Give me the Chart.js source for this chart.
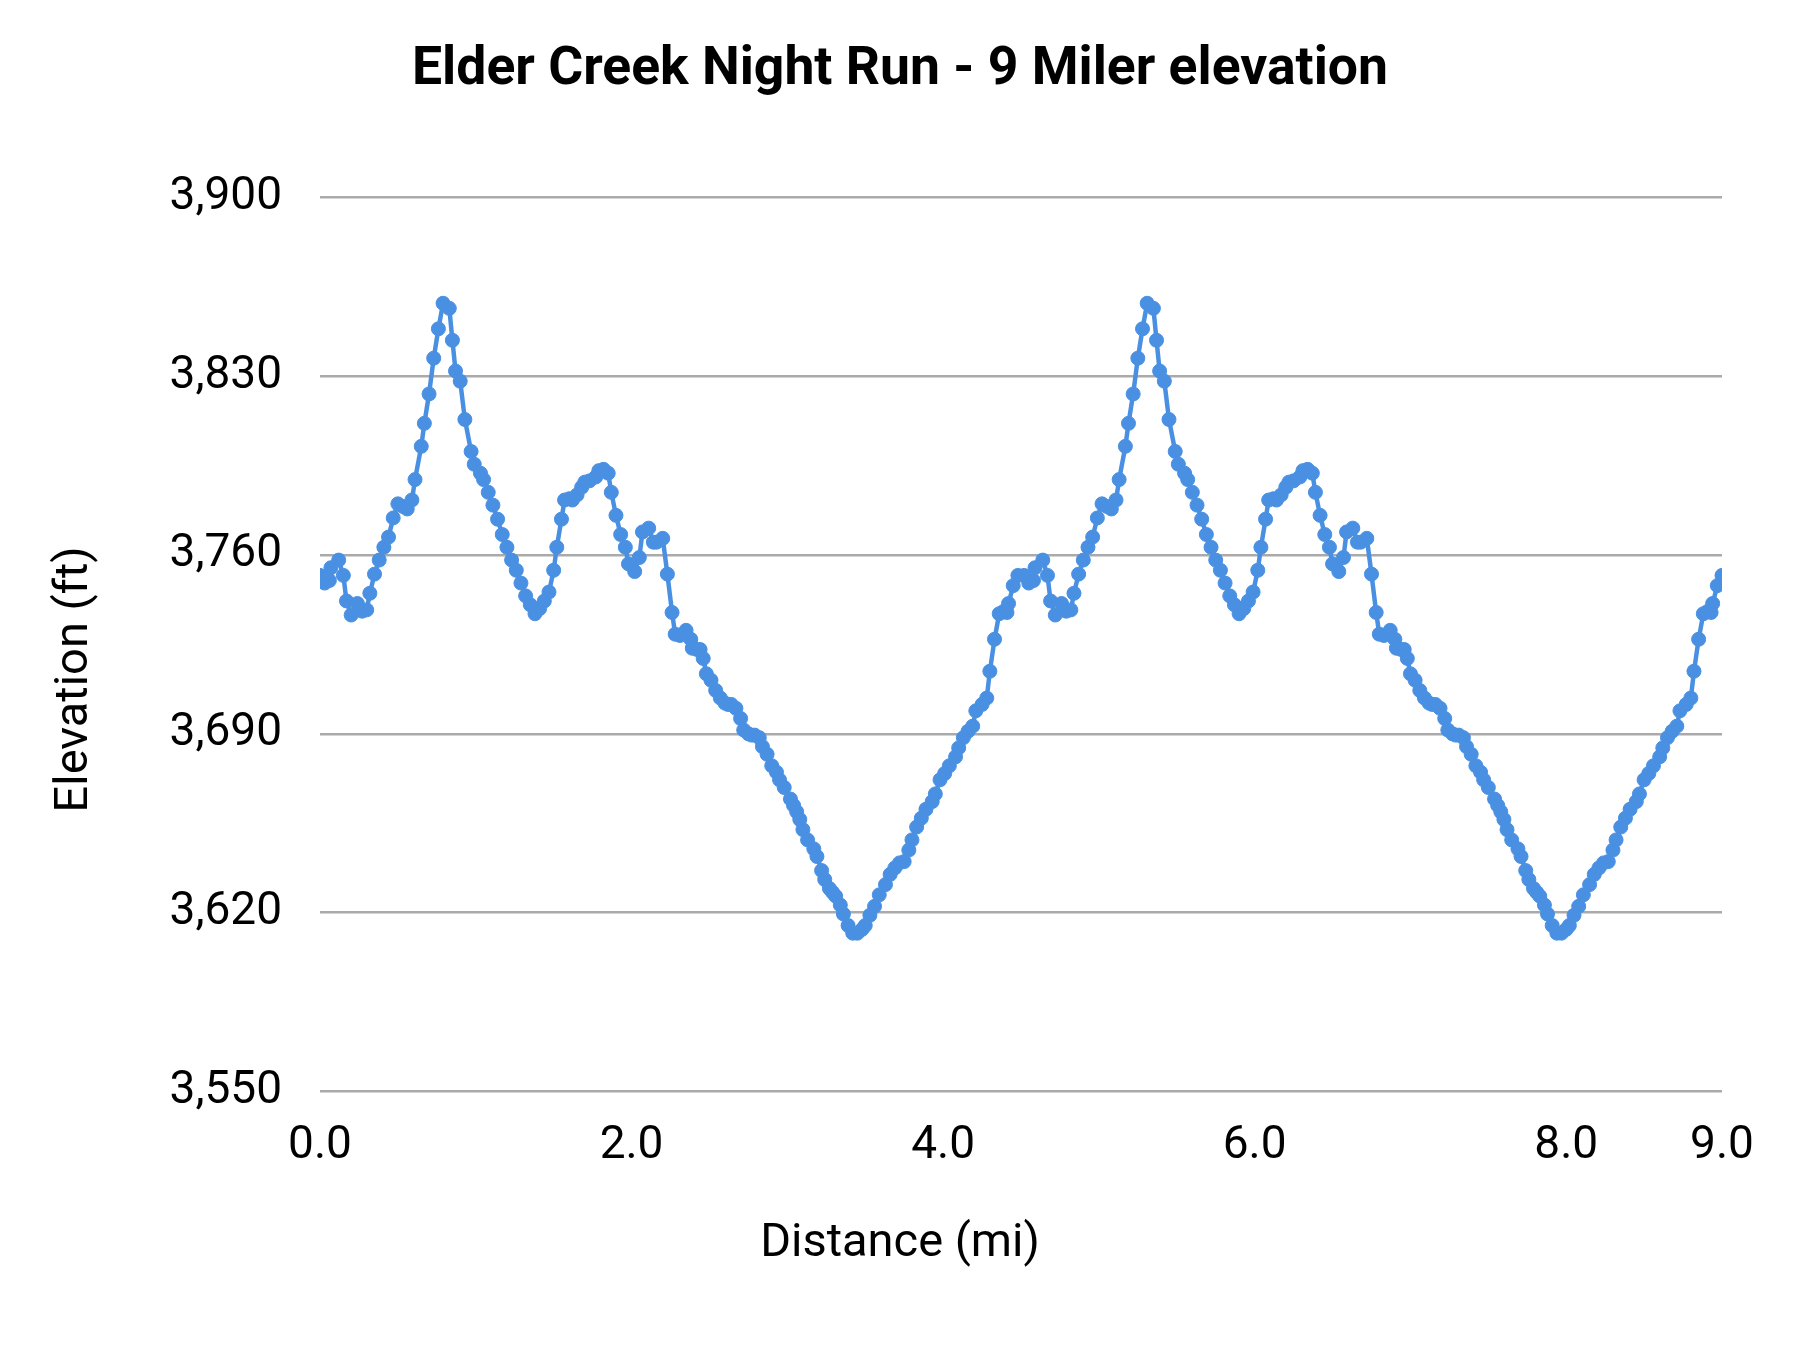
<!DOCTYPE html>
<html>
<head>
<meta charset="utf-8">
<script src="https://cdn.jsdelivr.net/npm/chart.js@4.4.1/dist/chart.umd.min.js"></script>
<style>
html,body{margin:0;padding:0;background:#ffffff;}
canvas{display:block;}
</style>
</head>
<body>
<canvas id="c" width="1800" height="1350"></canvas>
<script>
// ---- Data ----
const loop1Miles = [0.00,0.03,0.06,0.07,0.12,0.15,0.17,0.20,0.24,0.27,
0.30,0.32,0.35,0.38,0.41,0.44,0.47,0.50,0.53,0.56,
0.59,0.61,0.65,0.67,0.70,0.73,0.76,0.79,0.83,0.85,
0.87,0.90,0.93,0.97,0.99,1.03,1.05,1.08,1.11,1.14,
1.17,1.20,1.23,1.26,1.29,1.32,1.35,1.38,1.41,1.44,
1.47,1.50,1.52,1.55,1.57,1.60,1.62,1.65,1.68,1.70,
1.73,1.77,1.79,1.82,1.85,1.87,1.90,1.93,1.96,1.98,
2.02,2.05,2.07,2.11,2.14,2.16,2.20,2.23,2.26,2.28,
2.31,2.35,2.38,2.39,2.42,2.44,2.46,2.48,2.51,2.54,
2.57,2.60,2.62,2.64,2.67,2.70,2.72,2.75,2.77,2.79,
2.82,2.84,2.87,2.90,2.93,2.95,2.98,3.02,3.04,3.06,
3.08,3.10,3.13,3.17,3.19,3.22,3.24,3.27,3.29,3.31,
3.34,3.36,3.39,3.42,3.45,3.48,3.50,3.53,3.56,3.59,
3.63,3.66,3.69,3.72,3.75,3.78,3.80,3.83,3.86,3.89,
3.93,3.95,3.98,4.01,4.04,4.08,4.10,4.13,4.16,4.19,
4.21,4.25,4.28,4.30,4.33,4.36,4.39,4.41,4.42,4.45,4.48];

const loop1ElevationFt = [3752,3749,3750,3755,3758,3752,3742,3736.5,3741,3738,
3738.5,3745,3752.5,3758,3763,3767,3774.5,3780,3779,3778,
3781.5,3789.5,3802.5,3811.5,3823,3837,3848.5,3858.5,3856.5,3844,
3832,3828,3813,3800.5,3795.5,3792,3789.5,3784.5,3779.5,3774,
3768,3763,3758,3754,3749,3744,3740.5,3737,3739,3742,
3745.5,3754,3763,3774,3781.5,3782,3781.5,3783.5,3786.5,3788.5,
3789,3790.5,3793,3793.5,3792,3784.5,3775.5,3768,3763,3756.5,
3753.5,3759,3769,3770.5,3765,3765,3766.5,3752.5,3737.5,3729,
3728.5,3730.5,3727,3723.5,3723,3723,3719.5,3713.5,3711,3707,
3704,3702,3701.5,3701.5,3700,3696,3691.5,3690,3689.5,3689.5,
3688.5,3685,3682,3677.5,3675,3672,3669,3664.5,3662,3659.5,
3656.5,3652.5,3648.5,3645,3642,3636.5,3633,3629.5,3628,3626.5,
3623,3619.5,3615,3612,3612,3613.5,3615,3619,3622.5,3627,
3631,3635,3637.5,3639.5,3640,3644.5,3648.5,3653.5,3657,3660.5,
3663.5,3666.5,3672,3674.5,3677.5,3681,3684.5,3688.5,3691,3693,
3699,3701.5,3704,3714.5,3727,3737,3738,3737.5,3741,3748,3752];

const loop2Miles = [4.52,4.55,4.58,4.59,4.64,4.67,4.69,4.72,4.76,4.79,
4.82,4.84,4.87,4.90,4.93,4.96,4.99,5.02,5.05,5.08,
5.11,5.13,5.17,5.19,5.22,5.25,5.28,5.31,5.35,5.37,
5.39,5.42,5.45,5.49,5.51,5.55,5.57,5.60,5.63,5.66,
5.69,5.72,5.75,5.78,5.81,5.84,5.87,5.90,5.93,5.96,
5.99,6.02,6.04,6.07,6.09,6.12,6.14,6.17,6.20,6.22,
6.25,6.29,6.31,6.34,6.37,6.39,6.42,6.45,6.48,6.50,
6.54,6.57,6.59,6.63,6.66,6.68,6.72,6.75,6.78,6.80,
6.83,6.87,6.90,6.91,6.94,6.96,6.98,7.00,7.03,7.06,
7.09,7.12,7.14,7.16,7.19,7.22,7.24,7.27,7.29,7.31,
7.34,7.36,7.39,7.42,7.45,7.47,7.50,7.54,7.56,7.58,
7.60,7.62,7.65,7.69,7.71,7.74,7.76,7.79,7.81,7.83,
7.86,7.88,7.91,7.94,7.97,8.00,8.02,8.05,8.08,8.11,
8.15,8.18,8.21,8.24,8.27,8.30,8.32,8.35,8.38,8.41,
8.45,8.47,8.50,8.53,8.56,8.60,8.62,8.65,8.68,8.71,
8.73,8.77,8.80,8.82,8.85,8.88,8.91,8.93,8.94,8.97,9.00];

const loop2ElevationFt = [3752,3749,3750,3755,3758,3752,3742,3736.5,3741,3738,
3738.5,3745,3752.5,3758,3763,3767,3774.5,3780,3779,3778,
3781.5,3789.5,3802.5,3811.5,3823,3837,3848.5,3858.5,3856.5,3844,
3832,3828,3813,3800.5,3795.5,3792,3789.5,3784.5,3779.5,3774,
3768,3763,3758,3754,3749,3744,3740.5,3737,3739,3742,
3745.5,3754,3763,3774,3781.5,3782,3781.5,3783.5,3786.5,3788.5,
3789,3790.5,3793,3793.5,3792,3784.5,3775.5,3768,3763,3756.5,
3753.5,3759,3769,3770.5,3765,3765,3766.5,3752.5,3737.5,3729,
3728.5,3730.5,3727,3723.5,3723,3723,3719.5,3713.5,3711,3707,
3704,3702,3701.5,3701.5,3700,3696,3691.5,3690,3689.5,3689.5,
3688.5,3685,3682,3677.5,3675,3672,3669,3664.5,3662,3659.5,
3656.5,3652.5,3648.5,3645,3642,3636.5,3633,3629.5,3628,3626.5,
3623,3619.5,3615,3612,3612,3613.5,3615,3619,3622.5,3627,
3631,3635,3637.5,3639.5,3640,3644.5,3648.5,3653.5,3657,3660.5,
3663.5,3666.5,3672,3674.5,3677.5,3681,3684.5,3688.5,3691,3693,
3699,3701.5,3704,3714.5,3727,3737,3738,3737.5,3741,3748,3752];

const xTickValues = [0, 2, 4, 6, 8, 9];
const yMin = 3550, yMax = 3900, yStep = 70;

const titleText = 'Elder Creek Night Run - 9 Miler elevation';
const xTitleText = 'Distance (mi)';
const yTitleText = 'Elevation (ft)';

// ---- Build chart ----
const allMiles = loop1Miles.concat(loop2Miles);
const allElev = loop1ElevationFt.concat(loop2ElevationFt);
const points = allMiles.map((m, i) => ({x: m, y: allElev[i]}));

function build() {
  Chart.defaults.font.family = 'Roboto';
  Chart.defaults.color = '#000000';
  const ctx = document.getElementById('c').getContext('2d');
  new Chart(ctx, {
    type: 'line',
    data: {
      datasets: [{
        data: points,
        yAxisID: 'y',
        borderColor: '#4a90e2',
        backgroundColor: '#4a90e2',
        borderWidth: 4.5,
        pointRadius: 7,
        pointBorderWidth: 1,
        pointBorderColor: '#4a90e2',
        pointBackgroundColor: '#4a90e2',
        pointHoverRadius: 7,
        tension: 0,
        fill: false
      }]
    },
    options: {
      responsive: false,
      animation: false,
      devicePixelRatio: 1,
      events: [],
      layout: { padding: { left: 0, right: 0, top: 0, bottom: 0 } },
      plugins: {
        legend: { display: false },
        tooltip: { enabled: false },
        title: {
          display: true,
          text: titleText,
          color: '#000000',
          font: { family: 'Roboto', size: 53.5, weight: 'bold' },
          padding: { top: 38.5, bottom: 94.5 }
        },
        subtitle: {
          display: true,
          position: 'bottom',
          text: xTitleText,
          color: '#000000',
          font: { family: 'Roboto', size: 47, weight: 'normal' },
          padding: { top: 0, bottom: 78 }
        }
      },
      scales: {
        x: {
          type: 'linear',
          min: 0,
          max: 9,
          afterBuildTicks(scale) { scale.ticks = xTickValues.map(v => ({ value: v })); },
          afterFit(scale) { scale.height = 124; },
          ticks: {
            callback: v => Number(v).toFixed(1),
            color: '#000000',
            font: { size: 46 },
            padding: 27,
            maxRotation: 0,
            minRotation: 0,
            autoSkip: false
          },
          grid: { display: false, drawTicks: false },
          border: { display: false }
        },
        y: {
          position: 'left',
          min: yMin,
          max: yMax,
          afterFit(scale) { scale.width = 320; },
          ticks: {
            stepSize: yStep,
            callback: v => Number(v).toLocaleString('en-US'),
            color: '#000000',
            font: { size: 46 },
            padding: 38
          },
          grid: { color: '#aaaaaa', lineWidth: 2.5, drawTicks: false },
          border: { display: false },
          title: {
            display: true,
            text: yTitleText + '      ',
            color: '#000000',
            font: { size: 47 },
            padding: { top: 47, bottom: 0 }
          }
        },
        rightSpace: {
          type: 'linear',
          position: 'right',
          min: yMin,
          max: yMax,
          afterFit(scale) { scale.width = 78; },
          ticks: { display: false },
          grid: { display: false, drawTicks: false },
          border: { display: false }
        }
      }
    }
  });
}

if (document.fonts && document.fonts.load) {
  Promise.all([
    document.fonts.load('bold 54px Roboto'),
    document.fonts.load('46px Roboto')
  ]).then(build, build);
} else {
  build();
}
</script>
</body>
</html>
